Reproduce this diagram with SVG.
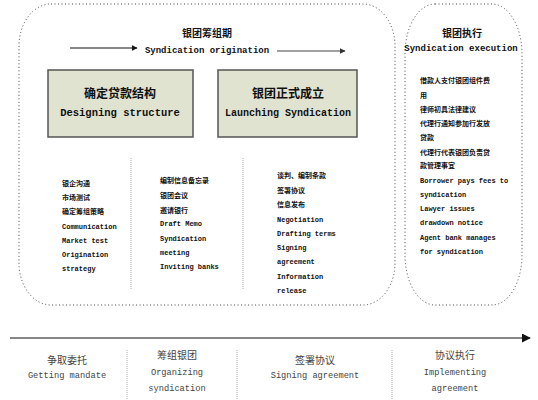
<svg xmlns="http://www.w3.org/2000/svg" width="538" height="400" viewBox="0 0 538 400">
<defs>
<marker id="ah" viewBox="0 0 10 10" refX="9" refY="5" markerWidth="6" markerHeight="6" markerUnits="userSpaceOnUse" orient="auto"><path d="M0,0 L10,5 L0,10 z" fill="#111"/></marker>
<marker id="ah2" viewBox="0 0 10 10" refX="9" refY="5" markerWidth="9" markerHeight="9" markerUnits="userSpaceOnUse" orient="auto"><path d="M0,0 L10,5 L0,10 z" fill="#111"/></marker>
<marker id="ahg" viewBox="0 0 10 10" refX="9" refY="5" markerWidth="6" markerHeight="6" markerUnits="userSpaceOnUse" orient="auto"><path d="M0,0 L10,5 L0,10 z" fill="#333"/></marker>
</defs>
<style>
.frame{fill:none;stroke:#444;stroke-width:1;stroke-dasharray:1 2.5}
.div{stroke:#aaa;stroke-width:1;stroke-dasharray:1 1}
.box{fill:#dfe3d0;stroke:#555;stroke-width:1.5}
.t{font-family:"Liberation Mono","Noto Sans CJK SC",monospace;fill:#111}
.cj{font-family:"Noto Sans CJK SC","Liberation Mono",sans-serif;fill:#111}
.b{font-weight:bold}
.s{font-size:7px;font-weight:bold}
.g{fill:#444}
</style>
<rect class="frame" x="19" y="4" width="376" height="301" rx="32" ry="42"/>
<rect class="frame" x="405" y="4" width="117" height="301" rx="30" ry="50"/>
<g id="connectors">
<line x1="70" y1="48" x2="137" y2="48" stroke="#111" stroke-width="1.2" marker-end="url(#ah)"/>
<line x1="277" y1="51" x2="345" y2="51" stroke="#444" stroke-width="1.2" marker-end="url(#ahg)"/>
<line x1="10" y1="338" x2="530" y2="338" stroke="#111" stroke-width="1.2" marker-end="url(#ah2)"/>
</g>
<g id="phase-origination">
<text class="cj b" x="207" y="37" font-size="10" text-anchor="middle">银团筹组期</text>
<text class="t b" x="207" y="53" font-size="9" text-anchor="middle">Syndication origination</text>
</g>
<g id="phase-execution">
<text class="cj b" x="462" y="37" font-size="10" text-anchor="middle">银团执行</text>
<text class="t b" x="461" y="51" font-size="9" text-anchor="middle">Syndication execution</text>
</g>
<g id="node-designing">
<rect class="box" x="48" y="70" width="145" height="67"/>
<text class="cj b" x="120" y="98" font-size="12" text-anchor="middle">确定贷款结构</text>
<text class="t b" x="120" y="116" font-size="10.5" text-anchor="middle">Designing structure</text>
</g>
<g id="node-launching">
<rect class="box" x="218" y="70" width="139" height="67"/>
<text class="cj b" x="288" y="98" font-size="12" text-anchor="middle">银团正式成立</text>
<text class="t b" x="288" y="116" font-size="10" text-anchor="middle">Launching Syndication</text>
</g>
<line class="div" x1="131" y1="158" x2="131" y2="290"/>
<line class="div" x1="243" y1="158" x2="243" y2="290"/>
<g id="list-1" class="t s">
<text x="62" y="186">银企沟通</text>
<text x="62" y="200">市场测试</text>
<text x="62" y="214">确定筹组策略</text>
<text x="62" y="229">Communication</text>
<text x="62" y="243">Market test</text>
<text x="62" y="257">Origination</text>
<text x="62" y="271">strategy</text>
</g>
<g id="list-2" class="t s">
<text x="160" y="183">编制信息备忘录</text>
<text x="160" y="198">银团会议</text>
<text x="160" y="213">邀请银行</text>
<text x="160" y="226">Draft Memo</text>
<text x="160" y="241">Syndication</text>
<text x="160" y="255">meeting</text>
<text x="160" y="269">Inviting banks</text>
</g>
<g id="list-3" class="t s">
<text x="277" y="178">谈判、编制条款</text>
<text x="277" y="193">签署协议</text>
<text x="277" y="207">信息发布</text>
<text x="277" y="222">Negotiation</text>
<text x="277" y="236">Drafting terms</text>
<text x="277" y="250">Signing</text>
<text x="277" y="264">agreement</text>
<text x="277" y="279">Information</text>
<text x="277" y="293">release</text>
</g>
<g id="list-4" class="t s">
<text x="420" y="83">借款人支付银团组件费</text>
<text x="420" y="98">用</text>
<text x="420" y="112">律师初具法律建议</text>
<text x="420" y="126">代理行通知参加行发放</text>
<text x="420" y="140">贷款</text>
<text x="420" y="155">代理行代表银团负责贷</text>
<text x="420" y="168">款管理事宜</text>
<text x="420" y="183">Borrower pays fees to</text>
<text x="420" y="197">syndication</text>
<text x="420" y="211">Lawyer issues</text>
<text x="420" y="225">drawdown notice</text>
<text x="420" y="240">Agent bank manages</text>
<text x="420" y="254">for syndication</text>
</g>
<line class="div" x1="127" y1="350" x2="127" y2="400"/>
<line class="div" x1="237" y1="350" x2="237" y2="400"/>
<line class="div" x1="392" y1="350" x2="392" y2="400"/>
<g id="stage-1" class="t g" text-anchor="middle">
<text class="cj g" x="67" y="364" font-size="10">争取委托</text>
<text x="67" y="378" font-size="8.7">Getting mandate</text>
</g>
<g id="stage-2" class="t g" text-anchor="middle">
<text class="cj g" x="177" y="359" font-size="10">筹组银团</text>
<text x="177" y="375" font-size="8.7">Organizing</text>
<text x="177" y="391" font-size="8.7">syndication</text>
</g>
<g id="stage-3" class="t g" text-anchor="middle">
<text class="cj g" x="315" y="364" font-size="10">签署协议</text>
<text x="315" y="378" font-size="8.7">Signing agreement</text>
</g>
<g id="stage-4" class="t g" text-anchor="middle">
<text class="cj g" x="455" y="359" font-size="10">协议执行</text>
<text x="455" y="375" font-size="8.7">Implementing</text>
<text x="455" y="391" font-size="8.7">agreement</text>
</g>
</svg>
